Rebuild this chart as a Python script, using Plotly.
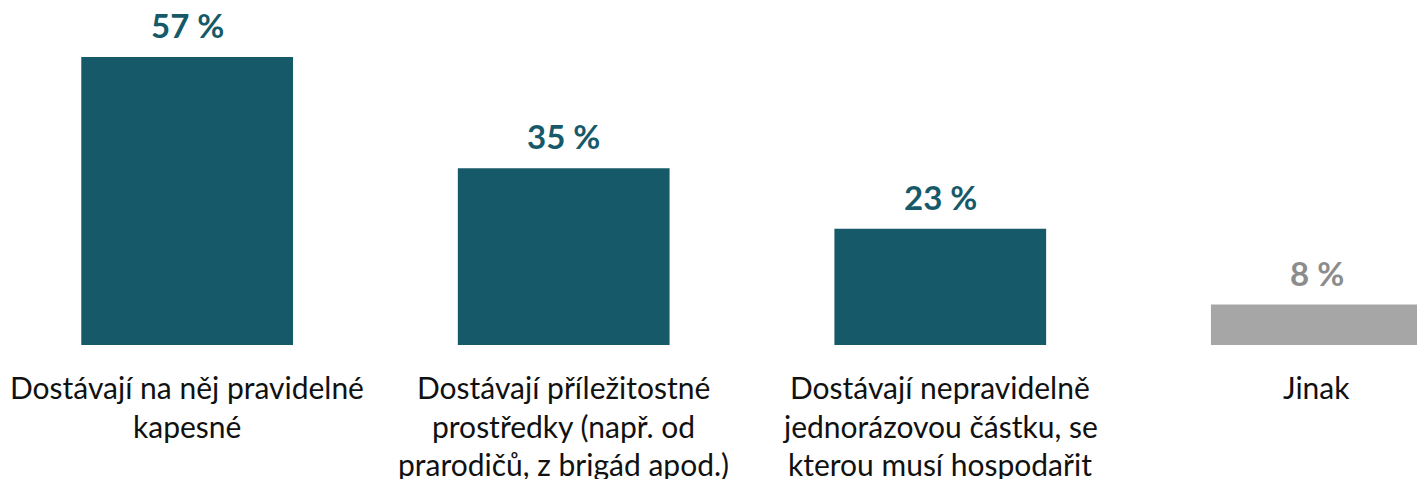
import plotly.graph_objects as go

categories = [
    "Dostávají na něj pravidelné<br>kapesné",
    "Dostávají příležitostné<br>prostředky (např. od<br>prarodičů, z brigád apod.)",
    "Dostávají nepravidelně<br>jednorázovou částku, se<br>kterou musí hospodařit",
    "Jinak",
]
values = [57, 35, 23, 8]
value_labels = ["57 %", "35 %", "23 %", "8 %"]
bar_colors = ["#165A69", "#165A69", "#165A69", "#A6A6A6"]
label_colors = ["#165A69", "#165A69", "#165A69", "#8C8C8C"]

FONT = "Lato"
x = list(range(len(categories)))

fig = go.Figure(
    go.Bar(
        x=x,
        y=values,
        width=0.5623,
        marker=dict(color=bar_colors, line=dict(width=0)),
        hoverinfo="skip",
    )
)

annotations = []
for xi, v, t, c in zip(x, values, value_labels, label_colors):
    annotations.append(dict(
        x=xi, y=v, xref="x", yref="y", text=f"<b>{t}</b>", showarrow=False,
        yanchor="middle", yshift=32,
        font=dict(family=FONT, size=33, color=c),
    ))
for xi, cat in zip(x, categories):
    for li, line in enumerate(cat.split("<br>")):
        annotations.append(dict(
            x=xi, y=0, xref="x", yref="paper", text=line, showarrow=False,
            yanchor="middle", yshift=-42 - 38.5 * li,
            font=dict(family=FONT, size=30, color="#111111"),
        ))

fig.update_layout(
    width=1417, height=479,
    margin=dict(l=0, r=0, t=0, b=134),
    paper_bgcolor="white", plot_bgcolor="white",
    showlegend=False,
    xaxis=dict(range=[-0.497, 3.266], visible=False),
    yaxis=dict(range=[0, 68.28], visible=False),
    annotations=annotations,
)

fig.write_html(
    "out.html",
    config={"displayModeBar": False},
    post_script="document.body.style.margin='0';document.body.style.overflow='hidden';",
)
